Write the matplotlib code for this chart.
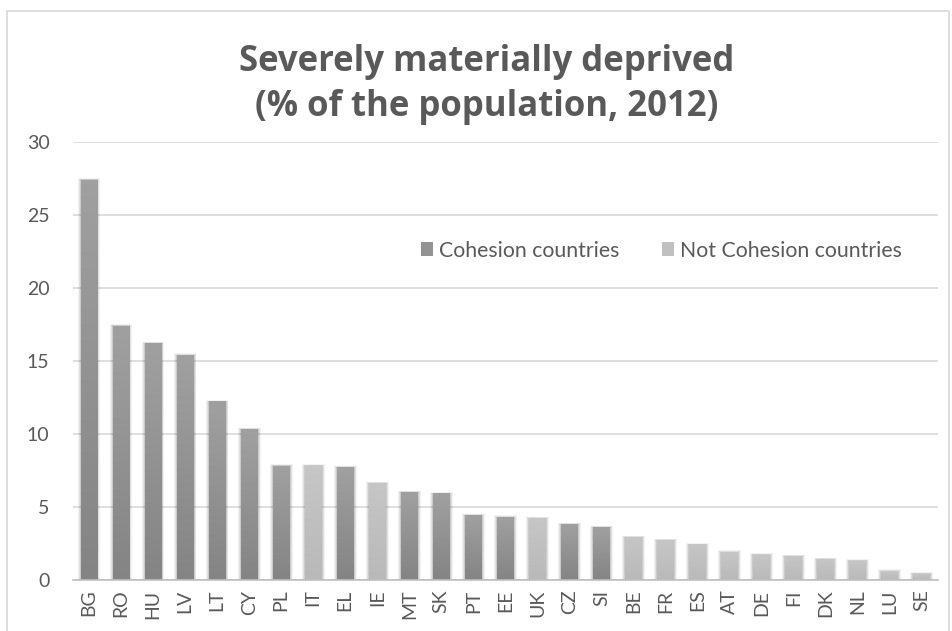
import numpy as np
import matplotlib
matplotlib.use('Agg')
from matplotlib import pyplot as plt
from matplotlib.patches import Rectangle

countries = ['BG', 'RO', 'HU', 'LV', 'LT', 'CY', 'PL', 'IT', 'EL', 'IE', 'MT', 'SK', 'PT', 'EE',
             'UK', 'CZ', 'SI', 'BE', 'FR', 'ES', 'AT', 'DE', 'FI', 'DK', 'NL', 'LU', 'SE']
values = [27.4, 17.4, 16.2, 15.4, 12.2, 10.3, 7.8, 7.8, 7.7, 6.6, 6.0, 5.9, 4.4, 4.3,
          4.2, 3.8, 3.6, 2.9, 2.7, 2.4, 1.9, 1.7, 1.6, 1.4, 1.3, 0.6, 0.4]
cohesion = [1, 1, 1, 1, 1, 1, 1, 0, 1, 0, 1, 1, 1, 1,
            0, 1, 1, 0, 0, 0, 0, 0, 0, 0, 0, 0, 0]

plt.rcParams['font.family'] = ['Lato', 'DejaVu Sans']
txt = '#595959'

fig = plt.figure(figsize=(9.53, 6.31), dpi=100)
# light border round the chart (bottom edge is cut off in the original)
fig.add_artist(plt.Line2D([0.0073, 0.0073, 0.9955, 0.9955], [0.0, 0.9826, 0.9826, 0.0],
                          transform=fig.transFigure, color='#d9d9d9', lw=1.2))
ax = fig.add_axes([0.0766, 0.081, 0.9074, 0.694])

x = np.arange(len(countries))
w = 0.53
grad = np.linspace(0, 1, 100).reshape(-1, 1)
cm_c = matplotlib.colors.LinearSegmentedColormap.from_list('c', ['#848484', '#a0a0a0'])
cm_n = matplotlib.colors.LinearSegmentedColormap.from_list('n', ['#b9b9b9', '#c6c6c6'])
for xi, v, c in zip(x, values, cohesion):
    # soft shadow
    for k, a in [(0.09, 0.05), (0.06, 0.07), (0.03, 0.09)]:
        ax.bar(xi, v + 0.12 * k / 0.09, width=w + 2 * k, color='k', alpha=a, lw=0, zorder=2)
    ax.imshow(grad, cmap=cm_c if c else cm_n, origin='lower', aspect='auto',
              extent=(xi - w / 2, xi + w / 2, 0, v), zorder=3)

ax.set_xlim(-0.5, len(countries) - 0.5)
ax.set_ylim(0, 30)
ax.set_yticks(range(0, 31, 5))
ax.set_xticks(x)
ax.set_xticklabels(countries, rotation=90)
ax.tick_params(axis='both', length=0, labelsize=14, colors=txt)
ax.tick_params(axis='y', pad=17)
ax.tick_params(axis='x', pad=7)
ax.grid(axis='y', color='#d9d9d9', lw=1.2, zorder=0)
ax.set_axisbelow(True)
for s in ['top', 'right', 'left']:
    ax.spines[s].set_visible(False)
ax.spines['bottom'].set_color('#bfbfbf')
ax.spines['bottom'].set_linewidth(1.2)
ax.spines['bottom'].set_zorder(4)

fig.text(0.511, 0.866, 'Severely materially deprived\n(% of the population, 2012)',
         ha='center', va='center', fontsize=25, fontweight='bold', color=txt, linespacing=1.33,
         family=['Open Sans', 'DejaVu Sans'])

# legend
h1 = Rectangle((0, 0), 1, 1, facecolor='#939393', edgecolor='none')
h2 = Rectangle((0, 0), 1, 1, facecolor='#c0c0c0', edgecolor='none')
ax.legend([h1, h2], ['Cohesion countries', 'Not Cohesion countries'], ncol=2, frameon=False,
          loc='center left', bbox_to_anchor=(0.38, 0.752), fontsize=15.3, labelcolor=txt,
          handlelength=0.6, handleheight=0.6, handletextpad=0.25, columnspacing=2.0)

plt.savefig('out.png', dpi=100)
